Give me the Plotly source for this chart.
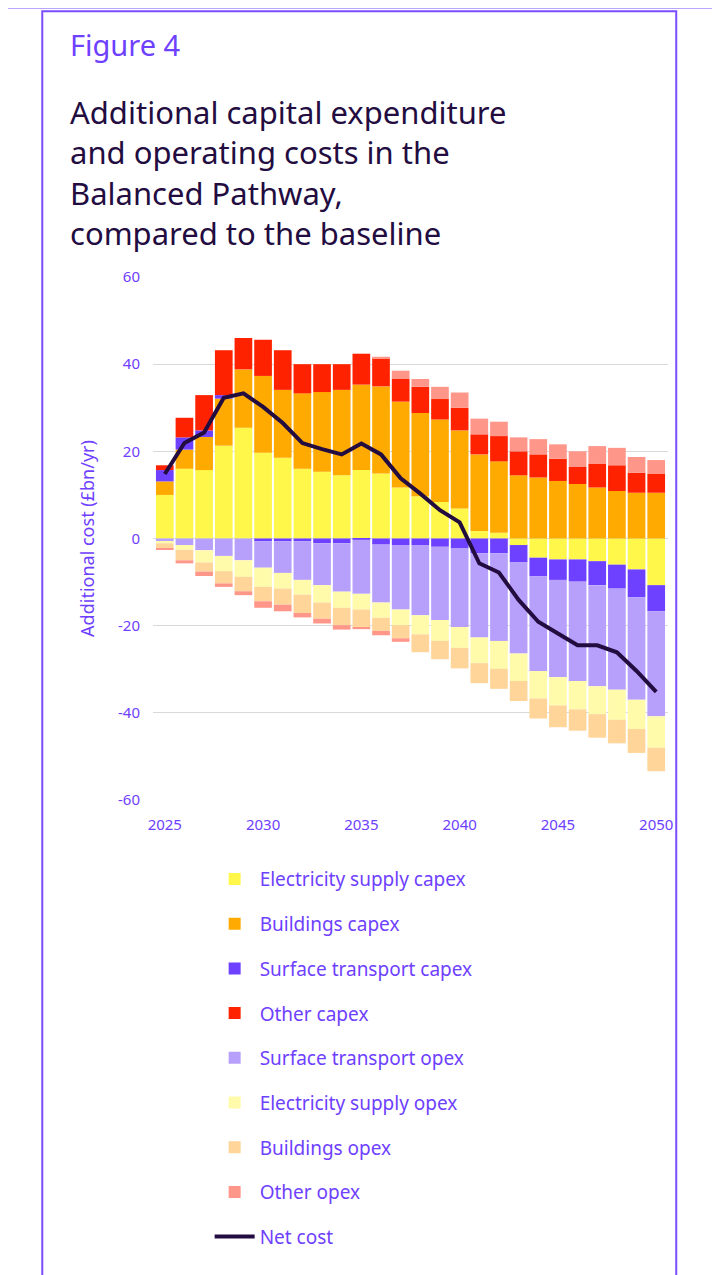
import plotly.graph_objects as go

years = list(range(2025, 2051))

# values in £bn/yr
elec_capex = [10, 16, 15.7, 21.3, 25.4, 19.7, 18.5, 16, 15.3, 14.5, 15.7, 14.9, 11.7, 9.7, 8.4, 6.9,
              1.7, 1.3, -1.5, -4.4, -4.8, -4.8, -5.2, -6, -7.1, -10.7]
build_capex = [3.1, 4.4, 7.6, 10.8, 13.4, 17.6, 15.6, 17.3, 18.3, 19.6, 19.6, 20, 19.7, 19.1, 18.9, 17.9,
               17.6, 16.4, 14.5, 14, 13.2, 12.5, 11.7, 10.9, 10.5, 10.5]
surf_capex = [2.6, 2.8, 1.5, 0.8, 0, -0.6, -0.6, -0.6, -1.1, -1.1, -0.3, -1.4, -1.5, -1.5, -1.9, -2.3,
              -3.4, -3.4, -4, -4.3, -4.7, -5.1, -5.5, -5.5, -6.4, -6]
other_capex = [1.1, 4.5, 8.1, 10.3, 7.2, 8.3, 9.1, 6.7, 6.4, 5.9, 7.1, 6.5, 5.3, 6, 4.7, 5.2,
               4.6, 5.8, 5.5, 5.3, 5.1, 3.9, 5.5, 5.9, 4.6, 4.3]
other_opex_pos = [0, 0, 0, 0, 0, 0, 0, 0, 0, 0, 0, 0.3, 1.8, 1.8, 2.8, 3.5,
                  3.6, 3.3, 3.2, 3.5, 3.3, 3.6, 4, 4, 3.6, 3.2]
surf_opex = [-0.8, -1.5, -2.7, -4, -5, -6.1, -7.3, -8.9, -9.6, -11.1, -12.4, -13.3, -14.8, -16.1, -16.8, -18,
             -19.3, -20.1, -20.9, -21.7, -22.3, -22.8, -23.2, -23.2, -23.5, -24.1]
elec_opex = [-0.3, -1.1, -2.8, -3.5, -3.8, -4.4, -3.6, -3.4, -4, -3.7, -3.6, -3.5, -3.6, -4.4, -4.8, -4.8,
             -5.9, -6.4, -6.3, -6.3, -6.5, -6.5, -6.4, -6.9, -6.7, -7.2]
build_opex = [-1.1, -2.4, -2.1, -2.8, -3.3, -3.3, -3.7, -4.2, -3.7, -4, -4, -3, -3, -4.1, -4.2, -4.7,
              -4.6, -4.6, -4.6, -4.6, -5, -4.9, -5.4, -5.4, -5.5, -5.4]
other_opex_neg = [-0.4, -0.7, -1, -0.8, -0.9, -1.5, -1.5, -1, -1.1, -1, -0.5, -1, -0.8, 0, 0, 0,
                  0, 0, 0, 0, 0, 0, 0, 0, 0, 0]
net_cost = [14.8, 21.9, 24.3, 32.3, 33.3, 30.2, 26.5, 21.9, 20.5, 19.3, 21.8, 19.3, 13.8, 10.3, 6.5, 3.7,
            -5.7, -7.8, -14.1, -19.1, -21.8, -24.5, -24.5, -26.1, -30.4, -35.2]
y_ticks = [-60, -40, -20, 0, 20, 40, 60]
y_labels = ["-60", "-40", "-20", "0", "20", "40", "60"]

PURPLE = "#6e40ff"
NAVY = "#230c3f"
FONT = "Noto Sans"

series = [
    ("Electricity supply capex", elec_capex, "#fff84a"),
    ("Buildings capex", build_capex, "#ffaa00"),
    ("Surface transport capex", surf_capex, "#6e40ff"),
    ("Other capex", other_capex, "#ff2200"),
    ("Surface transport opex", surf_opex, "#b6a0fb"),
    ("Electricity supply opex", elec_opex, "#fffbaa"),
    ("Buildings opex", build_opex, "#ffd599"),
]

fig = go.Figure()
for i, (name, vals, col) in enumerate(series):
    fig.add_trace(go.Bar(x=years, y=vals, name=name, marker_color=col,
                         marker_line_width=0, legendgroup=f"g{i}"))
# other opex: positive in later years, negative early
fig.add_trace(go.Bar(x=years, y=other_opex_pos, name="Other opex", marker_color="#ff968a",
                     marker_line_width=0, legendgroup="g7"))
fig.add_trace(go.Bar(x=years, y=other_opex_neg, name="Other opex", marker_color="#ff968a",
                     marker_line_width=0, legendgroup="g7", showlegend=False))
fig.add_trace(go.Scatter(x=years, y=net_cost, name="Net cost", mode="lines",
                         line={"color": NAVY, "width": 4}, legendgroup="g8"))

fig.add_annotation(text="Figure 4", xref="paper", yref="paper", x=-0.165, y=1.445,
                   xanchor="left", yanchor="middle", showarrow=False,
                   font={"size": 29, "color": PURPLE, "family": FONT})
fig.add_annotation(
    text="Additional capital expenditure<br>and operating costs in the<br>Balanced Pathway,<br>compared to the baseline",
    xref="paper", yref="paper", x=-0.165, y=1.36, xanchor="left", yanchor="top",
    align="left", showarrow=False, font={"size": 31, "color": NAVY, "family": FONT})

# frame around the figure
fig.add_shape(type="rect", xref="paper", yref="paper", x0=-0.215, x1=1.016, y0=-0.95, y1=1.508,
              line={"color": "#7b4dff", "width": 2})
fig.add_shape(type="line", xref="paper", yref="paper", x0=-0.3, x1=1.2, y0=1.514, y1=1.514,
              line={"color": "#9b7bff", "width": 1})

fig.update_layout(
    barmode="relative",
    bargap=0.1,
    width=720,
    height=1275,
    margin={"l": 145, "r": 60, "t": 269, "b": 483},
    plot_bgcolor="white",
    paper_bgcolor="white",
    font={"family": FONT, "color": PURPLE},
    showlegend=True,
    legend={"x": 0.11, "y": -0.115, "xanchor": "left", "yanchor": "top",
            "font": {"size": 19, "color": PURPLE}, "tracegroupgap": 17,
            "itemwidth": 40, "traceorder": "grouped"},
    xaxis={"tickvals": [2025, 2030, 2035, 2040, 2045, 2050], "range": [2024.4, 2050.6],
           "tickfont": {"size": 15, "color": PURPLE}, "showgrid": False, "ticks": "",
           "ticklabelstandoff": 14},
    yaxis={"range": [-60, 60], "tickvals": y_ticks, "ticktext": y_labels,
           "tickfont": {"size": 15, "color": PURPLE},
           "gridcolor": "#d9d9d9", "zeroline": False, "ticklabelstandoff": 12,
           "title": {"text": "Additional cost (£bn/yr)", "font": {"size": 18, "color": PURPLE},
                     "standoff": 18}},
)

fig.write_html("out.html")
